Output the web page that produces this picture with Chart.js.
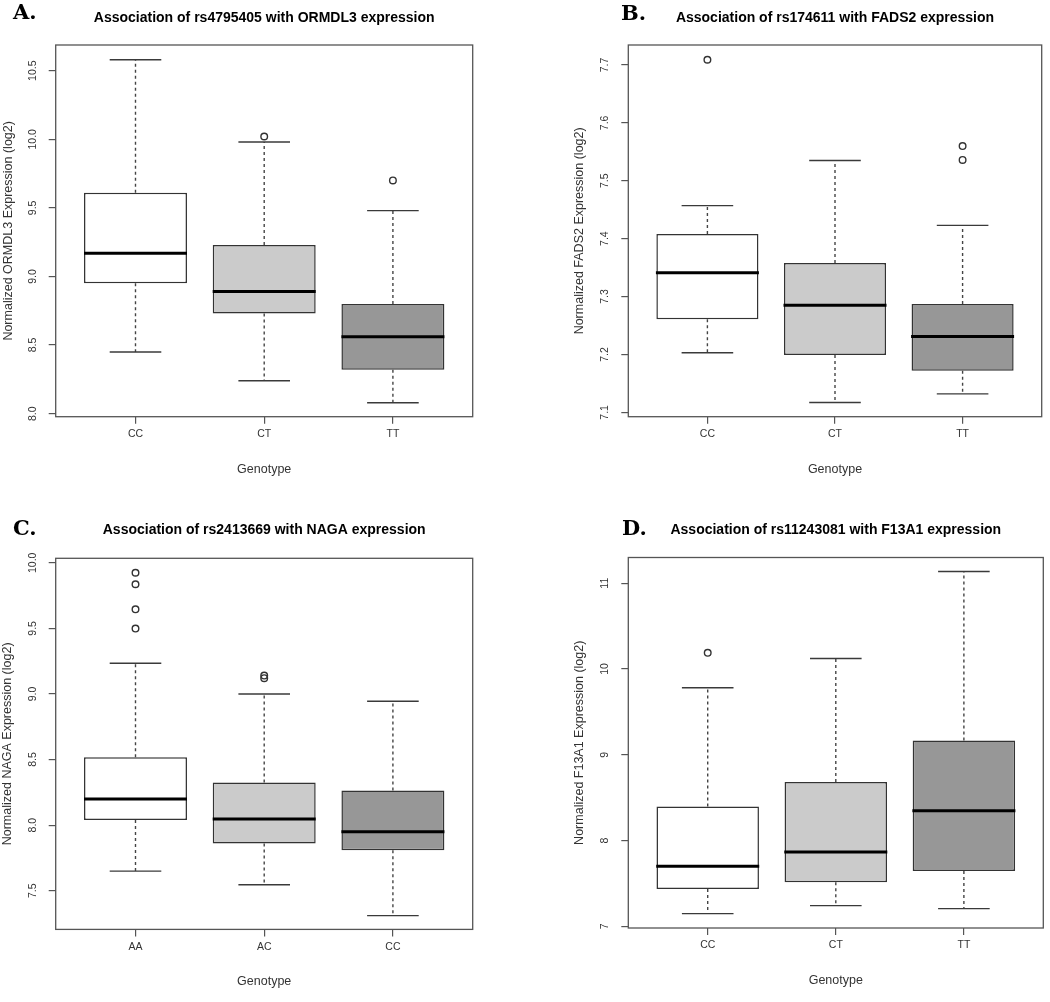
<!DOCTYPE html>
<html>
<head>
<meta charset="utf-8">
<script src="https://cdn.jsdelivr.net/npm/chart.js@4.4.1/dist/chart.umd.min.js"></script>
<style>
  body { margin: 0; background: #fff; }
  #page { position: relative; width: 1050px; height: 1002px; overflow: hidden; background: #fff; }
  canvas { position: absolute; }
  .tag { position: absolute; font-family: "DejaVu Serif", serif; font-weight: bold; font-size: 21px; line-height: 21px; color: #000; }
</style>
</head>
<body>
<div id="page">
  <canvas id="cA" width="525" height="501" style="left:0px;top:0px"></canvas>
  <canvas id="cB" width="525" height="501" style="left:525px;top:0px"></canvas>
  <canvas id="cC" width="525" height="501" style="left:0px;top:501px"></canvas>
  <canvas id="cD" width="525" height="501" style="left:525px;top:501px"></canvas>
  <div class="tag" style="left:13px;top:1px">A.</div>
  <div class="tag" style="left:621px;top:2px">B.</div>
  <div class="tag" style="left:13px;top:517px">C.</div>
  <div class="tag" style="left:622px;top:517px">D.</div>
</div>
<script>
// A. rs4795405 / ORMDL3
var genoA = ["CC", "CT", "TT"];
var lowA  = [8.45, 8.24, 8.08];
var q1A   = [8.95, 8.73, 8.32];
var medA  = [9.17, 8.89, 8.56];
var q3A   = [9.61, 9.23, 8.80];
var highA = [10.58, 9.98, 9.48];
var outA  = [[], [10.02], [9.70]];
var yTicksA = [8.0, 8.5, 9.0, 9.5, 10.0, 10.5];
var yLabelsA = ["8.0", "8.5", "9.0", "9.5", "10.0", "10.5"];

// B. rs174611 / FADS2
var genoB = ["CC", "CT", "TT"];
var lowB  = [7.203, 7.117, 7.132];
var q1B   = [7.261, 7.199, 7.172];
var medB  = [7.341, 7.285, 7.231];
var q3B   = [7.408, 7.358, 7.287];
var highB = [7.457, 7.535, 7.423];
var outB  = [[7.709], [], [7.560, 7.536]];
var yTicksB = [7.1, 7.2, 7.3, 7.4, 7.5, 7.6, 7.7];
var yLabelsB = ["7.1", "7.2", "7.3", "7.4", "7.5", "7.6", "7.7"];

// C. rs2413669 / NAGA
var genoC = ["AA", "AC", "CC"];
var lowC  = [7.649, 7.545, 7.31];
var q1C   = [8.039, 7.860, 7.808];
var medC  = [8.200, 8.047, 7.949];
var q3C   = [8.518, 8.324, 8.264];
var highC = [9.234, 9.000, 8.944];
var outC  = [[9.924, 9.836, 9.645, 9.498], [9.12, 9.14], []];
var yTicksC = [7.5, 8.0, 8.5, 9.0, 9.5, 10.0];
var yLabelsC = ["7.5", "8.0", "8.5", "9.0", "9.5", "10.0"];

// D. rs11243081 / F13A1
var genoD = ["CC", "CT", "TT"];
var lowD  = [7.148, 7.241, 7.206];
var q1D   = [7.435, 7.513, 7.645];
var medD  = [7.699, 7.867, 8.348];
var q3D   = [8.398, 8.682, 9.167];
var highD = [9.781, 10.122, 11.136];
var outD  = [[10.188], [], []];
var yTicksD = [7, 8, 9, 10, 11];
var yLabelsD = ["7", "8", "9", "10", "11"];

var boxColors = ["#ffffff", "#cbcbcb", "#979797"];
var tickFont = { family: "Liberation Sans", size: 10.5 };
var labFont = { family: "Liberation Sans", size: 12.5 };

var measureCtx = document.createElement("canvas").getContext("2d");
function widest(labels) {
  measureCtx.font = "10.5px 'Liberation Sans'";
  var w = 0;
  for (var i = 0; i < labels.length; i++) w = Math.max(w, measureCtx.measureText(labels[i]).width);
  return w;
}

// box around the plot region, like R's box()
var framePlugin = {
  id: "frame",
  afterDatasetsDraw: function(chart) {
    var a = chart.chartArea, ctx = chart.ctx;
    ctx.save();
    ctx.strokeStyle = "#555";
    ctx.lineWidth = 1.3;
    ctx.strokeRect(a.left, a.top, a.right - a.left, a.bottom - a.top);
    ctx.restore();
  }
};

function drawPanel(id, p) {
  var H = 501, W = 525;
  var boxes = [], whisk = [], caps = [], meds = [], outs = [];
  for (var i = 0; i < p.geno.length; i++) {
    var x = i + 1;
    boxes.push({ x: x, y: [p.q1[i], p.q3[i]] });
    whisk.push({ x: x, y: p.q3[i] }, { x: x, y: p.high[i] }, { x: x, y: null },
               { x: x, y: p.q1[i] }, { x: x, y: p.low[i] }, { x: x, y: null });
    caps.push({ x: x, y: p.low[i] }, { x: x, y: p.high[i] });
    meds.push({ x: x, y: p.med[i] });
    for (var j = 0; j < p.out[i].length; j++) outs.push({ x: x, y: p.out[i][j] });
  }

  new Chart(document.getElementById(id), {
    type: "bar",
    data: {
      datasets: [
        { type: "scatter", label: "median", data: meds, order: 0,
          pointStyle: "line", pointRadius: 51.5, pointHoverRadius: 51.5,
          pointBorderColor: "#000", pointBorderWidth: 3 },
        { type: "scatter", label: "outliers", data: outs, order: 1,
          pointStyle: "circle", pointRadius: 3.3, pointHoverRadius: 3.3,
          pointBorderColor: "#333", pointBackgroundColor: "rgba(0,0,0,0)", pointBorderWidth: 1.4 },
        { type: "scatter", label: "caps", data: caps, order: 2,
          pointStyle: "line", pointRadius: 25.8, pointHoverRadius: 25.8,
          pointBorderColor: "#3a3a3a", pointBorderWidth: 1.4 },
        { type: "line", label: "whiskers", data: whisk, order: 3,
          borderColor: "#444", borderWidth: 1.4, borderDash: [3, 3],
          pointRadius: 0, spanGaps: false, fill: false },
        { type: "bar", label: "box", data: boxes, order: 4,
          backgroundColor: boxColors, borderColor: "#333", borderWidth: 1.5,
          borderSkipped: false, barPercentage: 0.8, categoryPercentage: 1 }
      ]
    },
    options: {
      responsive: false,
      animation: false,
      events: [],
      layout: { autoPadding: false, padding: { left: 0, right: W - p.frame.r, top: 0, bottom: 0 } },
      plugins: {
        legend: { display: false },
        tooltip: { enabled: false },
        title: {
          display: true, text: p.title, fullSize: false, color: "#000",
          font: { family: "Liberation Sans", size: 14, weight: "bold" },
          padding: { top: p.titleY - 8.4, bottom: p.frame.t - p.titleY - 8.4 }
        }
      },
      scales: {
        x: {
          type: "linear", min: 0.38, max: 3.62, offset: false,
          afterBuildTicks: function(s) { s.ticks = [1, 2, 3].map(function(v) { return { value: v }; }); },
          afterFit: function(s) { s.height = H - p.frame.b; },
          grid: { drawOnChartArea: false, offset: false, tickLength: 7, color: "#555", lineWidth: 1.2 },
          border: { display: false },
          ticks: { font: tickFont, color: "#333", padding: 4, autoSkip: false, maxRotation: 0,
                   callback: function(v) { return p.geno[v - 1]; } },
          title: { display: true, text: "Genotype", font: labFont, color: "#333",
                   padding: { top: 0, bottom: H - p.xTitleY - 7.5 } }
        },
        y: {
          type: "linear", min: p.yMin, max: p.yMax, beginAtZero: false,
          afterBuildTicks: function(s) { s.ticks = p.yTicks.map(function(v) { return { value: v }; }); },
          afterFit: function(s) { s.width = p.frame.l; },
          grid: { drawOnChartArea: false, tickLength: 7, color: "#555", lineWidth: 1.2 },
          border: { display: false },
          ticks: { font: tickFont, color: "#333", autoSkip: false, minRotation: 90, maxRotation: 90,
                   crossAlign: "center", padding: 23 - 7 - widest(p.yLabels) / 2,
                   callback: function(v, i) { return p.yLabels[i]; } },
          title: { display: true, text: p.yTitle, font: labFont, color: "#333",
                   padding: { top: p.yTitleX - 7.5, bottom: 0 } }
        }
      }
    },
    plugins: [framePlugin]
  });
}

drawPanel("cA", {
  title: "Association of rs4795405 with ORMDL3 expression",
  yTitle: "Normalized ORMDL3 Expression (log2)",
  geno: genoA, low: lowA, q1: q1A, med: medA, q3: q3A, high: highA, out: outA,
  yMin: 7.978, yMax: 10.687, yTicks: yTicksA, yLabels: yLabelsA,
  frame: { l: 55.7, r: 472.7, t: 45, b: 416.7 },
  titleY: 17.8, yTitleX: 8.5, xTitleY: 469.3
});
drawPanel("cB", {
  title: "Association of rs174611 with FADS2 expression",
  yTitle: "Normalized FADS2 Expression (log2)",
  geno: genoB, low: lowB, q1: q1B, med: medB, q3: q3B, high: highB, out: outB,
  yMin: 7.0925, yMax: 7.7345, yTicks: yTicksB, yLabels: yLabelsB,
  frame: { l: 103.3, r: 516.7, t: 45, b: 416.7 },
  titleY: 18.5, yTitleX: 55, xTitleY: 469.3
});
drawPanel("cC", {
  title: "Association of rs2413669 with NAGA expression",
  yTitle: "Normalized NAGA Expression (log2)",
  geno: genoC, low: lowC, q1: q1C, med: medC, q3: q3C, high: highC, out: outC,
  yMin: 7.205, yMax: 10.034, yTicks: yTicksC, yLabels: yLabelsC,
  frame: { l: 55.7, r: 472.7, t: 57.3, b: 428.4 },
  titleY: 29.5, yTitleX: 7.5, xTitleY: 481
});
drawPanel("cD", {
  title: "Association of rs11243081 with F13A1 expression",
  yTitle: "Normalized F13A1 Expression (log2)",
  geno: genoD, low: lowD, q1: q1D, med: medD, q3: q3D, high: highD, out: outD,
  yMin: 6.98, yMax: 11.30, yTicks: yTicksD, yLabels: yLabelsD,
  frame: { l: 103.3, r: 518.3, t: 56.5, b: 427 },
  titleY: 29.5, yTitleX: 55, xTitleY: 480
});
</script>
</body>
</html>
